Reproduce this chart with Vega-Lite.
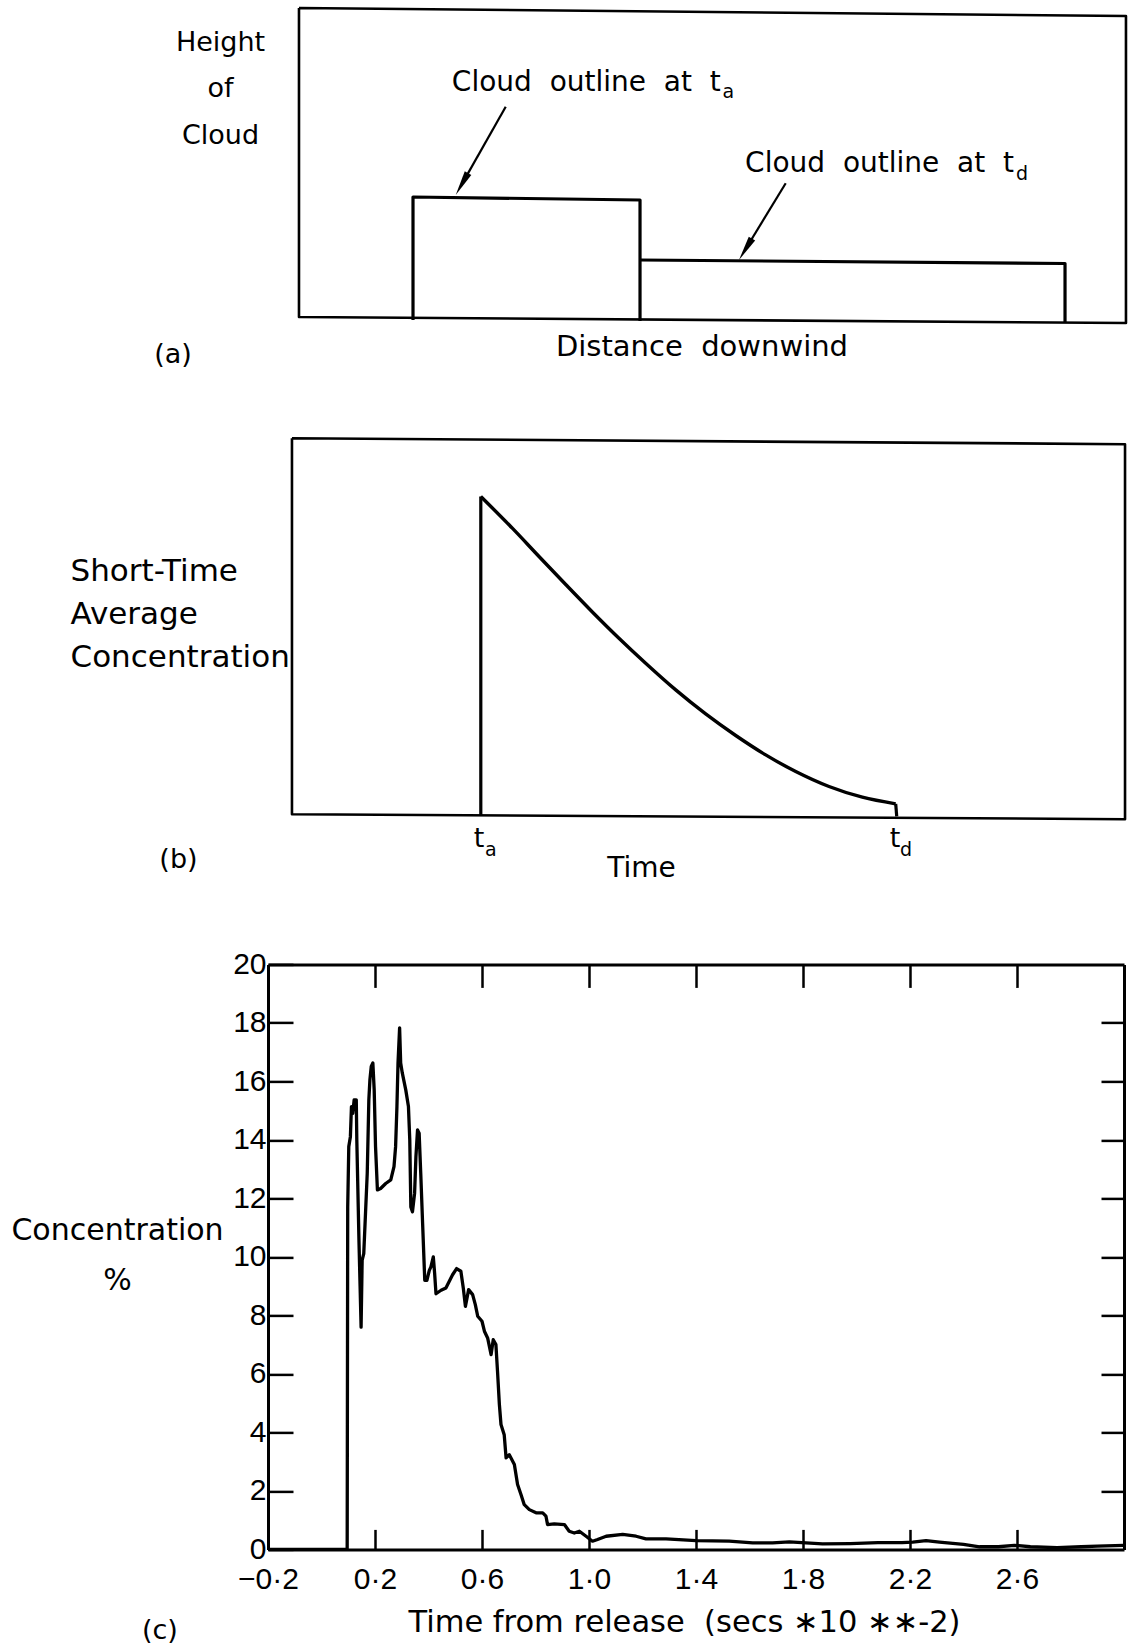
{
  "$schema": "https://vega.github.io/schema/vega-lite/v6.json",
  "background": "white",
  "padding": {"left": 10, "top": 6, "right": 5, "bottom": 5},
  "spacing": 67.2,
  "config": {
    "view": {"stroke": null},
    "font": "DejaVu Sans",
    "axis": {"titleFont": "DejaVu Sans", "titleFontWeight": "normal", "titleColor": "black", "labelFont": "Liberation Sans", "labelColor": "black", "domainColor": "black", "tickColor": "black", "grid": false, "labelFlush": false, "labelOverlap": false}
  },
  "datasets": {
    "frameA": [
      {"d": 3.62, "h": 100, "o": 1}, {"d": 100.23, "h": 97.46, "o": 2}, {"d": 100.23, "h": 0, "o": 3}, {"d": 3.62, "h": 1.9, "o": 4}, {"d": 3.62, "h": 100, "o": 5}
    ],
    "outlineA": [
      {"s": "ta", "d": 16.94, "h": 0.95, "o": 1}, {"s": "ta", "d": 16.94, "h": 40.0, "o": 2}, {"s": "ta", "d": 43.46, "h": 39.05, "o": 3}, {"s": "ta", "d": 43.46, "h": 0.63, "o": 4},
      {"s": "td", "d": 43.46, "h": 20.0, "o": 1}, {"s": "td", "d": 93.11, "h": 18.89, "o": 2}, {"s": "td", "d": 93.11, "h": 0, "o": 3}
    ],
    "arrowsA": [
      {"arrow": "ta", "d": 27.77, "h": 68.67}, {"arrow": "ta", "d": 22.65, "h": 44.1},
      {"arrow": "td", "d": 60.48, "h": 44.35}, {"arrow": "td", "d": 55.78, "h": 23.4}
    ],
    "headsA": [
      {"arrow": "ta", "d": 22.65, "h": 44.1}, {"arrow": "td", "d": 55.78, "h": 23.4}
    ],
    "textA": [
      {"kind": "note", "d": 52.89, "h": 73.75, "label": "Cloud\u00a0 outline\u00a0 at\u00a0 t"},
      {"kind": "note", "d": 87.15, "h": 48.03, "label": "Cloud\u00a0 outline\u00a0 at\u00a0 t"},
      {"kind": "sub", "d": 53.1, "h": 71.43, "label": "a"},
      {"kind": "sub", "d": 87.38, "h": 45.4, "label": "d"},
      {"kind": "panel", "d": -11.1, "h": -12.7, "label": "(a)"}
    ],
    "frameB": [
      {"tm": 2.8, "c": 100, "o": 1}, {"tm": 100.12, "c": 98.43, "o": 2}, {"tm": 100.12, "c": 0, "o": 3}, {"tm": 2.8, "c": 1.31, "o": 4}, {"tm": 2.8, "c": 100, "o": 5}
    ],
    "edgesB": [
      {"part": "rise", "tm": 24.86, "c": 1.13, "o": 1}, {"part": "rise", "tm": 24.86, "c": 84.7, "o": 2},
      {"part": "drop", "tm": 73.33, "c": 4.02, "o": 1}, {"part": "drop", "tm": 73.45, "c": 0.71, "o": 2}
    ],
    "decayB": [
      {"tm": 24.86, "c": 84.7}, {"tm": 28.54, "c": 76.38}, {"tm": 31.66, "c": 68.95},
      {"tm": 34.78, "c": 61.6}, {"tm": 37.89, "c": 54.4}, {"tm": 41.0, "c": 47.5}, {"tm": 44.12, "c": 40.94},
      {"tm": 47.63, "c": 33.94}, {"tm": 51.13, "c": 27.64}, {"tm": 54.64, "c": 21.97}, {"tm": 58.14, "c": 16.88},
      {"tm": 61.65, "c": 12.52}, {"tm": 65.54, "c": 8.58}, {"tm": 69.43, "c": 5.77}, {"tm": 73.33, "c": 4.02}
    ],
    "textB": [
      {"kind": "tick", "tm": 24.65, "c": -7.17, "label": "t"},
      {"kind": "tick", "tm": 73.25, "c": -7.17, "label": "t"},
      {"kind": "sub", "tm": 25.35, "c": -9.79, "label": "a"},
      {"kind": "sub", "tm": 73.83, "c": -9.79, "label": "d"},
      {"kind": "panel", "tm": -10.46, "c": -12.86, "label": "(b)"}
    ],
    "concC": [
      {"t": -0.2, "v": 0}, {"t": 0.096, "v": 0}, {"t": 0.098, "v": 11.7}, {"t": 0.102, "v": 13.77}, {"t": 0.108, "v": 14.11}, {"t": 0.112, "v": 15.14},
      {"t": 0.117, "v": 14.91}, {"t": 0.122, "v": 15.37}, {"t": 0.13, "v": 15.37}, {"t": 0.132, "v": 14.0}, {"t": 0.14, "v": 10.57}, {"t": 0.148, "v": 7.6},
      {"t": 0.152, "v": 9.89}, {"t": 0.158, "v": 10.11}, {"t": 0.171, "v": 12.86}, {"t": 0.177, "v": 15.37}, {"t": 0.181, "v": 16.06}, {"t": 0.186, "v": 16.51},
      {"t": 0.192, "v": 16.63}, {"t": 0.197, "v": 15.71}, {"t": 0.202, "v": 13.77}, {"t": 0.209, "v": 12.29}, {"t": 0.221, "v": 12.34}, {"t": 0.24, "v": 12.51},
      {"t": 0.259, "v": 12.63}, {"t": 0.271, "v": 13.09}, {"t": 0.277, "v": 13.77}, {"t": 0.282, "v": 15.14}, {"t": 0.286, "v": 16.63}, {"t": 0.292, "v": 17.83},
      {"t": 0.296, "v": 16.63}, {"t": 0.302, "v": 16.29}, {"t": 0.315, "v": 15.71}, {"t": 0.325, "v": 15.14}, {"t": 0.33, "v": 14.0}, {"t": 0.334, "v": 11.71},
      {"t": 0.34, "v": 11.54}, {"t": 0.348, "v": 12.17}, {"t": 0.353, "v": 13.43}, {"t": 0.359, "v": 14.34}, {"t": 0.365, "v": 14.23}, {"t": 0.371, "v": 12.86},
      {"t": 0.378, "v": 11.14}, {"t": 0.386, "v": 9.2}, {"t": 0.394, "v": 9.2}, {"t": 0.403, "v": 9.54}, {"t": 0.409, "v": 9.66}, {"t": 0.418, "v": 10.0},
      {"t": 0.423, "v": 9.43}, {"t": 0.428, "v": 8.74}, {"t": 0.447, "v": 8.86}, {"t": 0.465, "v": 8.94}, {"t": 0.49, "v": 9.39}, {"t": 0.505, "v": 9.6},
      {"t": 0.521, "v": 9.51}, {"t": 0.53, "v": 8.94}, {"t": 0.538, "v": 8.31}, {"t": 0.55, "v": 8.88}, {"t": 0.565, "v": 8.71}, {"t": 0.575, "v": 8.37},
      {"t": 0.584, "v": 7.97}, {"t": 0.6, "v": 7.8}, {"t": 0.609, "v": 7.46}, {"t": 0.621, "v": 7.23}, {"t": 0.634, "v": 6.66}, {"t": 0.642, "v": 7.17},
      {"t": 0.652, "v": 7.0}, {"t": 0.658, "v": 6.09}, {"t": 0.665, "v": 4.95}, {"t": 0.671, "v": 4.27}, {"t": 0.683, "v": 3.92}, {"t": 0.69, "v": 3.13},
      {"t": 0.702, "v": 3.24}, {"t": 0.721, "v": 2.9}, {"t": 0.733, "v": 2.22}, {"t": 0.746, "v": 1.87}, {"t": 0.758, "v": 1.53}, {"t": 0.777, "v": 1.36},
      {"t": 0.802, "v": 1.25}, {"t": 0.827, "v": 1.25}, {"t": 0.839, "v": 1.14}, {"t": 0.845, "v": 0.85}, {"t": 0.87, "v": 0.87}, {"t": 0.908, "v": 0.85},
      {"t": 0.926, "v": 0.62}, {"t": 0.945, "v": 0.56}, {"t": 0.964, "v": 0.62}, {"t": 0.989, "v": 0.45}, {"t": 1.013, "v": 0.28}, {"t": 1.032, "v": 0.34},
      {"t": 1.064, "v": 0.45}, {"t": 1.126, "v": 0.51}, {"t": 1.176, "v": 0.45}, {"t": 1.213, "v": 0.36}, {"t": 1.288, "v": 0.36}, {"t": 1.4, "v": 0.3},
      {"t": 1.524, "v": 0.28}, {"t": 1.612, "v": 0.22}, {"t": 1.686, "v": 0.22}, {"t": 1.749, "v": 0.26}, {"t": 1.811, "v": 0.22}, {"t": 1.873, "v": 0.19},
      {"t": 1.977, "v": 0.2}, {"t": 2.08, "v": 0.23}, {"t": 2.17, "v": 0.23}, {"t": 2.21, "v": 0.25}, {"t": 2.26, "v": 0.3}, {"t": 2.31, "v": 0.25},
      {"t": 2.4, "v": 0.17}, {"t": 2.46, "v": 0.09}, {"t": 2.53, "v": 0.09}, {"t": 2.59, "v": 0.14}, {"t": 2.65, "v": 0.09}, {"t": 2.75, "v": 0.06},
      {"t": 2.84, "v": 0.09}, {"t": 2.9, "v": 0.11}, {"t": 3.0, "v": 0.14}
    ],
    "textC": [
      {"t": -0.604, "v": -3.08, "label": "(c)"}
    ]
  },
  "vconcat": [
    {
      "width": 856,
      "height": 315,
      "resolve": {"axis": {"x": "independent", "y": "independent"}},
      "layer": [
        {
          "data": {"name": "frameA"},
          "mark": {"type": "line", "color": "black", "strokeWidth": 2.6, "strokeJoin": "round"},
          "encoding": {
            "x": {"field": "d", "type": "quantitative", "scale": {"domain": [0, 100], "nice": false, "zero": false},
              "axis": {"title": "Distance\u00a0 downwind", "domain": true, "domainOpacity": 0, "ticks": false, "labels": false, "titleFontSize": 29, "titleX": 433.5, "titleY": 32, "titleAlign": "center", "titleBaseline": "alphabetic"}},
            "y": {"field": "h", "type": "quantitative", "scale": {"domain": [0, 100], "nice": false, "zero": false},
              "axis": {"title": ["Height", "of", "Cloud"], "domain": true, "domainOpacity": 0, "ticks": false, "labels": false, "titleFontSize": 27, "titleAngle": 0, "titleX": -48, "titleY": 42, "titleAlign": "center", "titleBaseline": "alphabetic", "titleLineHeight": 46.7}},
            "order": {"field": "o", "type": "quantitative"}
          }
        },
        {
          "data": {"name": "outlineA"},
          "mark": {"type": "line", "color": "black", "strokeWidth": 3.2, "strokeJoin": "round"},
          "encoding": {
            "x": {"field": "d", "type": "quantitative", "scale": {"domain": [0, 100], "nice": false, "zero": false}, "axis": null},
            "y": {"field": "h", "type": "quantitative", "scale": {"domain": [0, 100], "nice": false, "zero": false}, "axis": null},
            "detail": {"field": "s"},
            "order": {"field": "o", "type": "quantitative"}
          }
        },
        {
          "data": {"name": "arrowsA"},
          "mark": {"type": "line", "color": "black", "strokeWidth": 2.2, "strokeJoin": "round"},
          "encoding": {
            "x": {"field": "d", "type": "quantitative", "scale": {"domain": [0, 100], "nice": false, "zero": false}, "axis": null},
            "y": {"field": "h", "type": "quantitative", "scale": {"domain": [0, 100], "nice": false, "zero": false}, "axis": null},
            "detail": {"field": "arrow"}
          }
        },
        {
          "data": {"name": "headsA"},
          "transform": [{"filter": "datum.arrow === 'ta'"}],
          "mark": {"type": "point", "shape": "M0,-1L0.3,1L-0.3,1Z", "filled": true, "color": "black", "opacity": 1, "size": 625, "angle": 209.5},
          "encoding": {
            "x": {"field": "d", "type": "quantitative", "scale": {"domain": [0, 100], "nice": false, "zero": false}, "axis": null},
            "y": {"field": "h", "type": "quantitative", "scale": {"domain": [0, 100], "nice": false, "zero": false}, "axis": null}
          }
        },
        {
          "data": {"name": "headsA"},
          "transform": [{"filter": "datum.arrow === 'td'"}],
          "mark": {"type": "point", "shape": "M0,-1L0.3,1L-0.3,1Z", "filled": true, "color": "black", "opacity": 1, "size": 625, "angle": 211.3},
          "encoding": {
            "x": {"field": "d", "type": "quantitative", "scale": {"domain": [0, 100], "nice": false, "zero": false}, "axis": null},
            "y": {"field": "h", "type": "quantitative", "scale": {"domain": [0, 100], "nice": false, "zero": false}, "axis": null}
          }
        },
        {
          "data": {"name": "textA"},
          "transform": [{"filter": "datum.kind === 'note'"}],
          "mark": {"type": "text", "align": "right", "baseline": "alphabetic", "fontSize": 28, "font": "DejaVu Sans", "color": "black"},
          "encoding": {
            "x": {"field": "d", "type": "quantitative", "scale": {"domain": [0, 100], "nice": false, "zero": false}, "axis": null},
            "y": {"field": "h", "type": "quantitative", "scale": {"domain": [0, 100], "nice": false, "zero": false}, "axis": null},
            "text": {"field": "label"}
          }
        },
        {
          "data": {"name": "textA"},
          "transform": [{"filter": "datum.kind === 'sub'"}],
          "mark": {"type": "text", "align": "left", "baseline": "alphabetic", "fontSize": 19, "font": "DejaVu Sans", "color": "black"},
          "encoding": {
            "x": {"field": "d", "type": "quantitative", "scale": {"domain": [0, 100], "nice": false, "zero": false}, "axis": null},
            "y": {"field": "h", "type": "quantitative", "scale": {"domain": [0, 100], "nice": false, "zero": false}, "axis": null},
            "text": {"field": "label"}
          }
        },
        {
          "data": {"name": "textA"},
          "transform": [{"filter": "datum.kind === 'panel'"}],
          "mark": {"type": "text", "align": "center", "baseline": "alphabetic", "fontSize": 27, "font": "DejaVu Sans", "color": "black"},
          "encoding": {
            "x": {"field": "d", "type": "quantitative", "scale": {"domain": [0, 100], "nice": false, "zero": false}, "axis": null},
            "y": {"field": "h", "type": "quantitative", "scale": {"domain": [0, 100], "nice": false, "zero": false}, "axis": null},
            "text": {"field": "label"}
          }
        }
      ]
    },
    {
      "width": 856,
      "height": 381,
      "resolve": {"axis": {"x": "independent", "y": "independent"}},
      "layer": [
        {
          "data": {"name": "frameB"},
          "mark": {"type": "line", "color": "black", "strokeWidth": 2.6, "strokeJoin": "round"},
          "encoding": {
            "x": {"field": "tm", "type": "quantitative", "scale": {"domain": [0, 100], "nice": false, "zero": false},
              "axis": {"title": "Time", "domain": true, "domainOpacity": 0, "ticks": false, "labels": false, "titleFontSize": 28, "titleX": 373, "titleY": 57, "titleAlign": "center", "titleBaseline": "alphabetic"}},
            "y": {"field": "c", "type": "quantitative", "scale": {"domain": [0, 100], "nice": false, "zero": false},
              "axis": {"title": ["Short-Time", "Average", "Concentration"], "domain": true, "domainOpacity": 0, "ticks": false, "labels": false, "titleFontSize": 31, "titleAngle": 0, "titleX": -198, "titleY": 142, "titleAlign": "left", "titleBaseline": "alphabetic", "titleLineHeight": 43.3}},
            "order": {"field": "o", "type": "quantitative"}
          }
        },
        {
          "data": {"name": "edgesB"},
          "mark": {"type": "line", "color": "black", "strokeWidth": 3.2, "strokeJoin": "round"},
          "encoding": {
            "x": {"field": "tm", "type": "quantitative", "scale": {"domain": [0, 100], "nice": false, "zero": false}, "axis": null},
            "y": {"field": "c", "type": "quantitative", "scale": {"domain": [0, 100], "nice": false, "zero": false}, "axis": null},
            "detail": {"field": "part"},
            "order": {"field": "o", "type": "quantitative"}
          }
        },
        {
          "data": {"name": "decayB"},
          "mark": {"type": "line", "color": "black", "strokeWidth": 3.4, "interpolate": "monotone", "strokeJoin": "round"},
          "encoding": {
            "x": {"field": "tm", "type": "quantitative", "scale": {"domain": [0, 100], "nice": false, "zero": false}, "axis": null},
            "y": {"field": "c", "type": "quantitative", "scale": {"domain": [0, 100], "nice": false, "zero": false}, "axis": null}
          }
        },
        {
          "data": {"name": "textB"},
          "transform": [{"filter": "datum.kind === 'tick'"}],
          "mark": {"type": "text", "align": "center", "baseline": "alphabetic", "fontSize": 27, "font": "DejaVu Sans", "color": "black"},
          "encoding": {
            "x": {"field": "tm", "type": "quantitative", "scale": {"domain": [0, 100], "nice": false, "zero": false}, "axis": null},
            "y": {"field": "c", "type": "quantitative", "scale": {"domain": [0, 100], "nice": false, "zero": false}, "axis": null},
            "text": {"field": "label"}
          }
        },
        {
          "data": {"name": "textB"},
          "transform": [{"filter": "datum.kind === 'sub'"}],
          "mark": {"type": "text", "align": "left", "baseline": "alphabetic", "fontSize": 19, "font": "DejaVu Sans", "color": "black"},
          "encoding": {
            "x": {"field": "tm", "type": "quantitative", "scale": {"domain": [0, 100], "nice": false, "zero": false}, "axis": null},
            "y": {"field": "c", "type": "quantitative", "scale": {"domain": [0, 100], "nice": false, "zero": false}, "axis": null},
            "text": {"field": "label"}
          }
        },
        {
          "data": {"name": "textB"},
          "transform": [{"filter": "datum.kind === 'panel'"}],
          "mark": {"type": "text", "align": "center", "baseline": "alphabetic", "fontSize": 27, "font": "DejaVu Sans", "color": "black"},
          "encoding": {
            "x": {"field": "tm", "type": "quantitative", "scale": {"domain": [0, 100], "nice": false, "zero": false}, "axis": null},
            "y": {"field": "c", "type": "quantitative", "scale": {"domain": [0, 100], "nice": false, "zero": false}, "axis": null},
            "text": {"field": "label"}
          }
        }
      ]
    },
    {
      "width": 856,
      "height": 585,
      "resolve": {"axis": {"x": "independent", "y": "independent"}},
      "layer": [
        {
          "data": {"name": "concC"},
          "mark": {"type": "line", "color": "black", "strokeWidth": 3.3, "strokeJoin": "round"},
          "encoding": {
            "x": {"field": "t", "type": "quantitative", "scale": {"domain": [-0.2, 3.0], "nice": false, "zero": false},
              "axis": {"orient": "bottom", "values": [-0.2, 0.2, 0.6, 1.0, 1.4, 1.8, 2.2, 2.6], "tickSize": -20, "tickWidth": 2.5, "domainWidth": 3, "labelPadding": 35, "labelFontSize": 30,
                "labelExpr": "replace(format(datum.value, '.1f'), '.', '·')",
                "title": "Time from release\u00a0 (secs \u221710 \u2217\u2217-2)", "titleFontSize": 30.5, "titleX": 416, "titleY": 82, "titleAlign": "center", "titleBaseline": "alphabetic"}},
            "y": {"field": "v", "type": "quantitative", "scale": {"domain": [0, 20], "nice": false, "zero": false},
              "axis": {"orient": "left", "values": [0, 2, 4, 6, 8, 10, 12, 14, 16, 18, 20], "tickSize": -25, "tickWidth": 2.5, "domainWidth": 3, "labelPadding": 27, "labelFontSize": 30,
                "title": ["Concentration", "%"], "titleFontSize": 30, "titleAngle": 0, "titleX": -151, "titleY": 275, "titleAlign": "center", "titleBaseline": "alphabetic", "titleLineHeight": 50}}
          }
        },
        {
          "data": {"name": "textC"},
          "mark": {"type": "text", "align": "center", "baseline": "alphabetic", "fontSize": 27, "font": "DejaVu Sans", "color": "black"},
          "encoding": {
            "x": {"field": "t", "type": "quantitative", "scale": {"domain": [-0.2, 3.0], "nice": false, "zero": false},
              "axis": {"orient": "top", "values": [0.2, 0.6, 1.0, 1.4, 1.8, 2.2, 2.6], "tickSize": -23, "tickWidth": 2.5, "domainWidth": 3, "labels": false, "title": null}},
            "y": {"field": "v", "type": "quantitative", "scale": {"domain": [0, 20], "nice": false, "zero": false},
              "axis": {"orient": "right", "values": [2, 4, 6, 8, 10, 12, 14, 16, 18], "tickSize": -23, "tickWidth": 2.5, "domainWidth": 3, "labels": false, "title": null}},
            "text": {"field": "label"}
          }
        }
      ]
    }
  ]
}
